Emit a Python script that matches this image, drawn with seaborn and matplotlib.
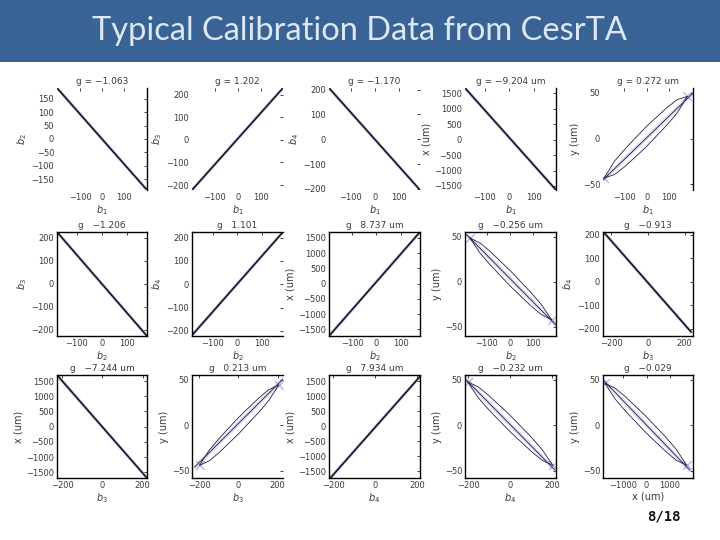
import matplotlib
matplotlib.use('Agg')
import matplotlib.pyplot as plt
from matplotlib.patches import Rectangle
import seaborn as sns

sns.set_theme(style='white')
plt.rcParams['font.family'] = ['DejaVu Sans']

# --- data (15 calibration panels, row by row) ---
titles = ['g = −1.063', 'g = 1.202', 'g = −1.170', 'g = −9.204 um', 'g = 0.272 um',
          'g   −1.206', 'g   1.101', 'g   8.737 um', 'g   −0.256 um', 'g   −0.913',
          'g   −7.244 um', 'g   0.213 um', 'g   7.934 um', 'g   −0.232 um', 'g   −0.029']
x_names = ['$b_1$', '$b_1$', '$b_1$', '$b_1$', '$b_1$',
           '$b_2$', '$b_2$', '$b_2$', '$b_2$', '$b_3$',
           '$b_3$', '$b_3$', '$b_4$', '$b_4$', 'x (um)']
y_names = ['$b_2$', '$b_3$', '$b_4$', 'x (um)', 'y (um)',
           '$b_3$', '$b_4$', 'x (um)', 'y (um)', '$b_4$',
           'x (um)', 'y (um)', 'x (um)', 'y (um)', 'y (um)']

# fitted line end points
fit_x = [[-205, 205], [-197, 193], [-190, 187], [-180, 190], [-195, 203],
         [-180, 180], [-184, 186], [-195, 180], [-186, 197], [-240, 235],
         [-225, 222], [-222, 230], [-210, 213], [-212, 216], [-1860, 1857]]
fit_y = [[190, -190], [-222, 230], [207, -205], [1670, -1630], [-45, 49],
         [224, -228], [-219, 224], [-1720, 1690], [52, -48], [210, -215],
         [1700, -1690], [-46, 51], [-1700, 1650], [50, -49.5], [49.5, -49.5]]

# error ellipses on the position panels
lens_panels = [4, 8, 11, 13, 14]
lens_x = [[-190, -144, -97, -5, 87, 134, 180],
          [-172, -128, -84, 3, 90, 134, 178],
          [-197, -147, -96, 4, 105, 156, 206],
          [-204, -153, -102, 0, 102, 153, 204],
          [-1787, -1349, -911, -35, 841, 1278, 1716]]
lens_upper = [[-43, -24.6, -11.3, 12.4, 33.2, 42.2, 46],
              [48.5, 42.7, 33.2, 11.7, -12, -25.1, -42],
              [-44, -27.2, -14.2, 9, 29.8, 39, 44],
              [47.6, 42, 32.5, 10.8, -13.3, -26.6, -44],
              [45.8, 40.5, 31.2, 9.9, -13.7, -26.8, -44]]
lens_lower = [[-43, -39.2, -30.3, -9.6, 14.2, 27.6, 46],
              [48.5, 31.5, 18.4, -5.3, -26.8, -36.3, -42],
              [-44, -39, -29.8, -9, 14.2, 27.2, 44],
              [47.6, 30.2, 16.9, -7.2, -28.9, -38.4, -44],
              [45.8, 28.7, 15.6, -8.1, -29.3, -38.6, -44]]

x_lims = [(-205, 205), (-197, 193), (-190, 187), (-180, 190), (-195, 205),
          (-180, 180), (-184, 186), (-195, 180), (-193, 197), (-245, 245),
          (-225, 222), (-236, 228), (-219, 213), (-216, 220), (-1870, 1990)]
y_lims = [(-190, 190), (-222, 230), (-205, 207), (-1630, 1670), (-56, 55),
          (-228, 224), (-222, 224), (-1720, 1690), (-60, 55), (-232, 212),
          (-1690, 1700), (-58, 55), (-1720, 1700), (-58, 55), (-58, 55)]
b_ticks = [-100, 0, 100]
b_wide = [-200, 0, 200]
x_ticks = [b_ticks] * 9 + [b_wide] * 5 + [[-1000, 0, 1000]]
y_ticks = [[-150, -100, -50, 0, 50, 100, 150], [-200, -100, 0, 100, 200],
           [-200, -100, 0, 100, 200], [-1500, -1000, -500, 0, 500, 1000, 1500], [-50, 0, 50],
           [-200, -100, 0, 100, 200], [-200, -100, 0, 100, 200],
           [-1500, -1000, -500, 0, 500, 1000, 1500], [-50, 0, 50], [-200, -100, 0, 100, 200],
           [-1500, -1000, -500, 0, 500, 1000, 1500], [-50, 0, 50],
           [-1500, -1000, -500, 0, 500, 1000, 1500], [-50, 0, 50], [-50, 0, 50]]

# which sides of each pasted plot still show a frame
box_sides = ['r', '', '', 'r', 'r',
             'lrtb', 'ltb', 'lrtb', 'lrtb', 'lrtb',
             'lrtb', 'ltb', 'lrtb', 'lrtb', 'lrtb']

# panel grid in pixels
col_left = [57, 192, 329, 465, 603]
col_right = [147, 283, 420, 556, 693]
row_top = [88, 232, 375]
row_bottom = [190, 336, 478]

W, H = 720, 540
fig = plt.figure(figsize=(7.2, 5.4), dpi=100)
fig.patch.set_facecolor('white')

# title bar
fig.patches.append(Rectangle((0, 1 - 62 / H), 1, 62 / H, transform=fig.transFigure,
                             facecolor='#3A6395', edgecolor='none', zorder=0))
fig.text(0.5, 1 - 31 / H, 'Typical Calibration Data from CesrTA', ha='center', va='center',
         fontsize=23.5, color='#DCE8F6', family='Lato')

text_col = '#3a3a3a'
for i in range(15):
    r, c = divmod(i, 5)
    rect = [col_left[c] / W, 1 - row_bottom[r] / H,
            (col_right[c] - col_left[c]) / W, (row_bottom[r] - row_top[r]) / H]
    ax = fig.add_axes(rect)
    ax.set_facecolor('white')

    if i in lens_panels:
        k = lens_panels.index(i)
        sns.lineplot(x=fit_x[i], y=fit_y[i], ax=ax, color='#9a9ae0', lw=3.0, alpha=0.3)
        sns.lineplot(x=fit_x[i], y=fit_y[i], ax=ax, color='#1c1c3a', lw=0.6)
        sns.lineplot(x=lens_x[k], y=lens_upper[k], ax=ax, color='#22224a', lw=0.6, sort=False)
        sns.lineplot(x=lens_x[k], y=lens_lower[k], ax=ax, color='#22224a', lw=0.6, sort=False)
        ends_x = [lens_x[k][0], lens_x[k][-1]]
        ends_y = [lens_upper[k][0], lens_upper[k][-1]]
        sns.scatterplot(x=ends_x, y=ends_y, ax=ax, marker='x', s=40, color='#7c7cd8',
                        alpha=0.55, linewidth=1.0)
    else:
        sns.lineplot(x=fit_x[i], y=fit_y[i], ax=ax, color='#6a6ab8', lw=2.4, alpha=0.3)
        sns.lineplot(x=fit_x[i], y=fit_y[i], ax=ax, color='#141428', lw=1.2)

    ax.set_xlim(*x_lims[i])
    ax.set_ylim(*y_lims[i])
    ax.set_xticks(x_ticks[i])
    ax.set_yticks(y_ticks[i])
    ax.tick_params(direction='in', length=2, width=0.6, top=True, right=True,
                   labelsize=6, colors='#222', labelcolor=text_col, pad=2)
    for side, name in zip('lrtb', ['left', 'right', 'top', 'bottom']):
        ax.spines[name].set_visible(side in box_sides[i])
        ax.spines[name].set_color('black')
        ax.spines[name].set_linewidth(1.0)

    ax.set_title(titles[i], fontsize=6.5, color=text_col, pad=3)
    ax.set_xlabel(x_names[i], fontsize=7, color=text_col, labelpad=1)
    ax.set_ylabel(y_names[i], fontsize=7, color=text_col, labelpad=2)

fig.text(664 / W, 1 - 517 / H, '8/18', ha='center', va='center', fontsize=10,
         fontweight='bold', family='DejaVu Sans Mono', color='#111')

fig.savefig('out.png', dpi=100)
